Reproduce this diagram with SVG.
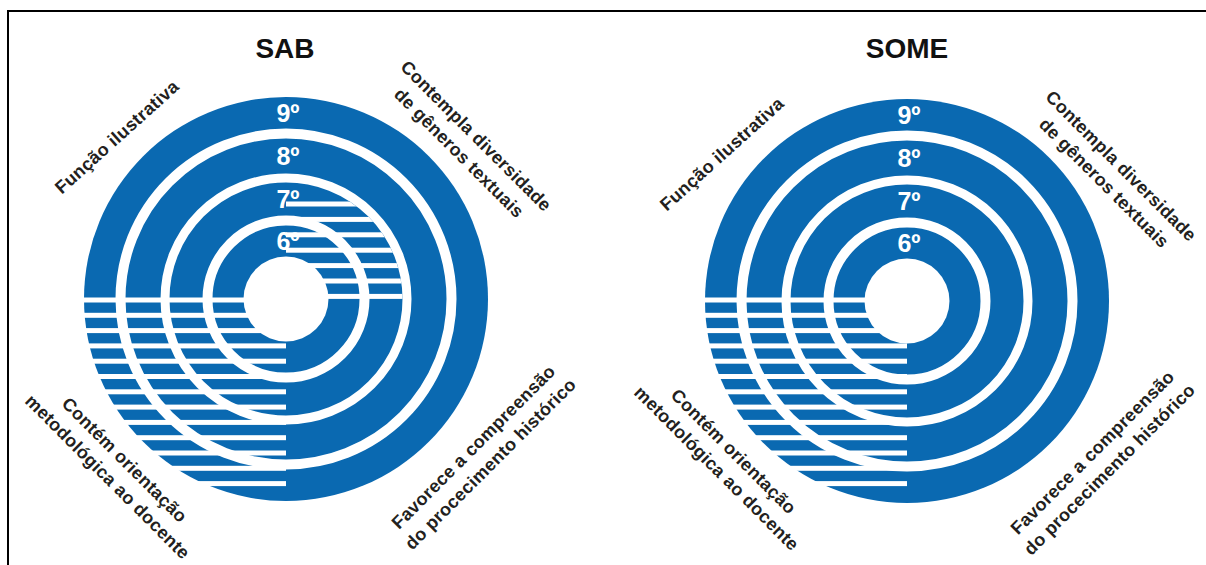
<svg xmlns="http://www.w3.org/2000/svg" width="1206" height="565" viewBox="0 0 1206 565">
  <style>
    .blue { fill: #0a69b1; }
    .gap { fill: none; stroke: #ffffff; }
    .hole { fill: #ffffff; }
    .stripe { fill: #ffffff; }
    .title { font-family: "Liberation Sans", Arial, sans-serif; font-weight: bold; font-size: 28px; fill: #111111; text-anchor: middle; }
    .grade { font-family: "Liberation Sans", Arial, sans-serif; font-weight: bold; font-size: 25px; fill: #ffffff; text-anchor: middle; }
    .label { font-family: "Liberation Sans", Arial, sans-serif; font-weight: bold; font-size: 18px; letter-spacing: 0.3px; fill: #231f20; text-anchor: middle; }
  </style>
  <defs>
    <g id="rings">
      <circle class="blue" cx="0" cy="0" r="202"/>
      <circle class="gap" cx="0" cy="0" r="165.5" stroke-width="10"/>
      <circle class="gap" cx="0" cy="0" r="121" stroke-width="9"/>
      <circle class="gap" cx="0" cy="0" r="78.5" stroke-width="10"/>
      <circle class="hole" cx="0" cy="0" r="42.5"/>
    </g>
    <clipPath id="clipOuterSAB"><circle cx="286" cy="299" r="203"/></clipPath>
    <clipPath id="clipInnerSAB"><circle cx="286" cy="299" r="116.5"/></clipPath>
    <clipPath id="clipOuterSOME"><circle cx="907" cy="301" r="203"/></clipPath>
  </defs>

  <rect x="0" y="0" width="1206" height="565" fill="#ffffff"/>
  <path d="M8,565 V11 H1206" fill="none" stroke="#000000" stroke-width="2"/>

  <!-- SAB diagram -->
  <g id="sab">
    <text class="title" x="285" y="58">SAB</text>
    <use href="#rings" x="286" y="299"/>
    <g id="sab-stripes-lower" clip-path="url(#clipOuterSAB)">
      <rect class="stripe" x="80" y="297.5" width="206" height="5"/>
      <rect class="stripe" x="80" y="312.8" width="206" height="5"/>
      <rect class="stripe" x="80" y="328.1" width="206" height="5"/>
      <rect class="stripe" x="80" y="343.4" width="206" height="5"/>
      <rect class="stripe" x="80" y="358.7" width="206" height="5"/>
      <rect class="stripe" x="80" y="374.0" width="206" height="5"/>
      <rect class="stripe" x="80" y="389.3" width="206" height="5"/>
      <rect class="stripe" x="80" y="404.6" width="206" height="5"/>
      <rect class="stripe" x="80" y="419.9" width="206" height="5"/>
      <rect class="stripe" x="80" y="435.2" width="206" height="5"/>
      <rect class="stripe" x="80" y="450.5" width="206" height="5"/>
      <rect class="stripe" x="80" y="465.8" width="206" height="5"/>
      <rect class="stripe" x="80" y="481.1" width="206" height="5"/>
    </g>
    <g id="sab-stripes-upper" clip-path="url(#clipInnerSAB)">
      <rect class="stripe" x="286" y="201.5" width="120" height="5"/>
      <rect class="stripe" x="286" y="216.9" width="120" height="5"/>
      <rect class="stripe" x="286" y="232.3" width="120" height="5"/>
      <rect class="stripe" x="286" y="247.7" width="120" height="5"/>
      <rect class="stripe" x="286" y="263.1" width="120" height="5"/>
      <rect class="stripe" x="286" y="278.5" width="120" height="5"/>
      <rect class="stripe" x="286" y="293.9" width="120" height="5"/>
    </g>
    <text class="grade" x="288" y="122">9º</text>
    <text class="grade" x="288" y="165">8º</text>
    <text class="grade" x="288" y="208">7º</text>
    <text class="grade" x="288" y="250">6º</text>
  </g>

  <g id="sab-label-funcao" transform="translate(117,137) rotate(-42)">
    <text class="label" x="0" y="6">Função ilustrativa</text>
  </g>
  <g id="sab-label-contempla" transform="translate(467.5,144.5) rotate(45)">
    <text class="label" x="0" y="-6">Contempla diversidade</text>
    <text class="label" x="0" y="18">de gêneros textuais</text>
  </g>
  <g id="sab-label-contem" transform="translate(116,468.5) rotate(45)">
    <text class="label" x="0" y="-6">Contém orientação</text>
    <text class="label" x="0" y="18">metodológica ao docente</text>
  </g>
  <g id="sab-label-favorece" transform="translate(482,455.5) rotate(-45)">
    <text class="label" x="0" y="-6">Favorece a compreensão</text>
    <text class="label" x="0" y="18">do procecimento histórico</text>
  </g>

  <!-- SOME diagram -->
  <g id="some">
    <text class="title" x="907" y="58">SOME</text>
    <use href="#rings" x="907" y="301"/>
    <g id="some-stripes-lower" clip-path="url(#clipOuterSOME)">
      <rect class="stripe" x="700" y="297.5" width="207" height="5"/>
      <rect class="stripe" x="700" y="312.8" width="207" height="5"/>
      <rect class="stripe" x="700" y="328.1" width="207" height="5"/>
      <rect class="stripe" x="700" y="343.4" width="207" height="5"/>
      <rect class="stripe" x="700" y="358.7" width="207" height="5"/>
      <rect class="stripe" x="700" y="374.0" width="207" height="5"/>
      <rect class="stripe" x="700" y="389.3" width="207" height="5"/>
      <rect class="stripe" x="700" y="404.6" width="207" height="5"/>
      <rect class="stripe" x="700" y="419.9" width="207" height="5"/>
      <rect class="stripe" x="700" y="435.2" width="207" height="5"/>
      <rect class="stripe" x="700" y="450.5" width="207" height="5"/>
      <rect class="stripe" x="700" y="465.8" width="207" height="5"/>
      <rect class="stripe" x="700" y="481.1" width="207" height="5"/>
    </g>
    <text class="grade" x="909" y="124">9º</text>
    <text class="grade" x="909" y="167">8º</text>
    <text class="grade" x="909" y="210">7º</text>
    <text class="grade" x="909" y="252">6º</text>
  </g>

  <g id="some-label-funcao" transform="translate(722,154) rotate(-42)">
    <text class="label" x="0" y="6">Função ilustrativa</text>
  </g>
  <g id="some-label-contempla" transform="translate(1112.5,174.5) rotate(45)">
    <text class="label" x="0" y="-6">Contempla diversidade</text>
    <text class="label" x="0" y="18">de gêneros textuais</text>
  </g>
  <g id="some-label-contem" transform="translate(725,460) rotate(45)">
    <text class="label" x="0" y="-6">Contém orientação</text>
    <text class="label" x="0" y="18">metodológica ao docente</text>
  </g>
  <g id="some-label-favorece" transform="translate(1101,461) rotate(-45)">
    <text class="label" x="0" y="-6">Favorece a compreensão</text>
    <text class="label" x="0" y="18">do procecimento histórico</text>
  </g>
</svg>
